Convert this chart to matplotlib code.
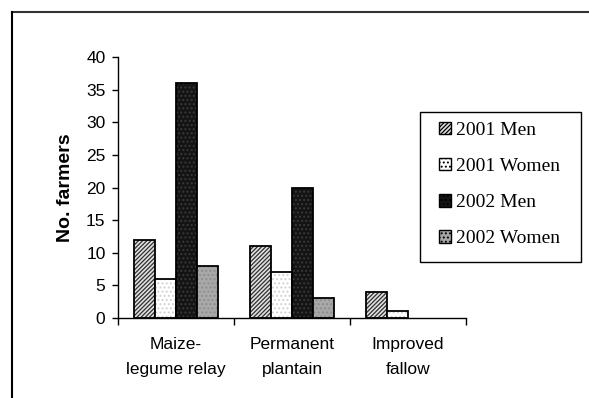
"""
    grouped bar chart: farmers adopting each practice, 2001 vs 2002
"""

import numpy as np
import matplotlib.pyplot as plt
from matplotlib.lines import Line2D
from matplotlib.patches import Rectangle

plt.rcParams['hatch.linewidth'] = 0.9

# data
categories = ["Maize-\nlegume relay", "Permanent\nplantain", "Improved\nfallow"]
series = ["2001 Men", "2001 Women", "2002 Men", "2002 Women"]
men_2001 = [12, 11, 4]
women_2001 = [6, 7, 1]
men_2002 = [36, 20, 0]
women_2002 = [8, 3, 0]
yticks = [0, 5, 10, 15, 20, 25, 30, 35, 40]

values = [men_2001, women_2001, men_2002, women_2002]
faces = ["#e0e0e0", "white", "#141414", "#a8a8a8"]
hatches = ["////////", "....", "....", "...."]
hatch_cols = ["#303030", "#d0d0d0", "#3a3a3a", "#8c8c8c"]

fig = plt.figure(figsize=(5.89, 3.98), dpi=100)
ax = fig.add_axes([118/589, 1 - 318/398, (466 - 118)/589, (318 - 57)/398])

x = np.arange(len(categories))
w = 0.18
handles = []
for i in range(4):
    pos = x + (i - 1.5)*w
    bars = ax.bar(pos, values[i], w, color=faces[i], edgecolor=hatch_cols[i],
                  hatch=hatches[i], linewidth=0, label=series[i])
    handles.append(bars)
    # black outline on top of the hatched fill, skip empty bars
    outl = ax.bar(pos, values[i], w, fill=False, edgecolor="black", linewidth=1.3)
    for b, v in zip(outl, values[i]):
        if v == 0:
            b.set_visible(False)

ax.set_xlim(-0.5, 2.5)
ax.set_ylim(0, 40)
ax.set_yticks(yticks)
ax.set_yticklabels([str(t) for t in yticks], fontfamily="Liberation Sans", fontsize=12.5)
ax.tick_params(axis="y", length=4, width=1, pad=5)

ax.set_xticks([-0.5, 0.5, 1.5, 2.5])
ax.set_xticklabels([])
ax.tick_params(axis="x", which="major", length=5, width=1, direction="out")
ax.set_xticks(x, minor=True)
ax.set_xticklabels(categories, minor=True, fontfamily="Liberation Sans",
                   fontsize=12.5, linespacing=1.8)
ax.tick_params(axis="x", which="minor", length=0, pad=14)

for s in ["top", "right"]:
    ax.spines[s].set_visible(False)
ax.spines["left"].set_linewidth(1)
ax.spines["bottom"].set_linewidth(1)

ax.set_ylabel("No. farmers", fontfamily="Liberation Sans", fontweight="bold",
              fontsize=14, labelpad=9)

leg = fig.legend(handles, series, loc="upper left",
                 bbox_to_anchor=(439/589, 1 - 122/398),
                 prop={"family": "Liberation Serif", "size": 14},
                 frameon=False, handlelength=0.6, handleheight=0.6,
                 handletextpad=0.25, labelspacing=0.98, borderpad=0,
                 borderaxespad=0)
for p in leg.get_patches():
    p.set_edgecolor("black")
    p.set_linewidth(1)

# legend box
fig.add_artist(Rectangle((420/589, 1 - 262/398), (581 - 420)/589, (262 - 112)/398,
                         transform=fig.transFigure, fill=False,
                         edgecolor="black", linewidth=1))

# outer frame (top and left edges visible)
fig.add_artist(Line2D([12/589, 1], [1 - 12/398, 1 - 12/398], color="#333333", lw=1.5))
fig.add_artist(Line2D([12/589, 12/589], [0, 1 - 12/398], color="black", lw=1.5))

fig.savefig("out.png", dpi=100)
